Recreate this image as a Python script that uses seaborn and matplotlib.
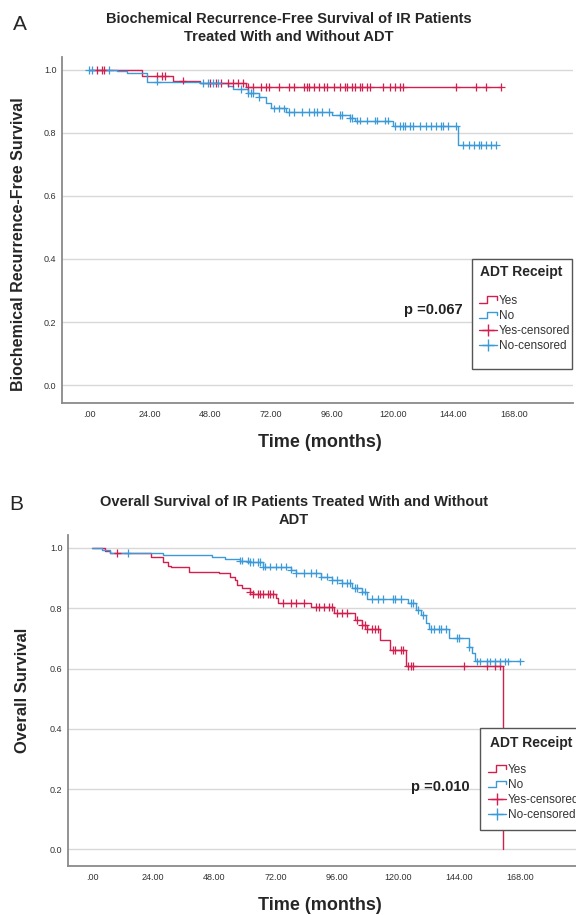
import numpy as np
import pandas as pd
import matplotlib
matplotlib.use("Agg")
import matplotlib.pyplot as plt
import seaborn as sns
from matplotlib.lines import Line2D
from matplotlib.patches import Rectangle
from matplotlib.legend_handler import HandlerBase

# ---- Panel A: biochemical recurrence-free survival (step points + censor times, months)
a_yes_times = [0, 21, 33, 44, 62]
a_yes_surv = [1.0, 0.981, 0.966, 0.958, 0.945]
a_yes_end = 163
a_yes_cens = [3, 5, 6, 27, 29, 30, 37, 48, 50, 52, 55, 57, 59, 61, 63, 65, 68, 70, 71,
              75, 79, 81, 85, 86, 87, 89, 91, 93, 94, 97, 99, 101, 102, 104, 105, 107,
              108, 110, 111, 116, 119, 121, 123, 124, 145, 153, 157, 163]

a_no_times = [0, 11, 15, 23, 44, 55, 57, 63, 67, 70, 72, 78, 96, 103, 105, 120, 146]
a_no_surv = [1.0, 0.995, 0.99, 0.963, 0.958, 0.949, 0.94, 0.927, 0.915, 0.895, 0.878,
             0.866, 0.857, 0.848, 0.839, 0.822, 0.762]
a_no_end = 161
a_no_cens = [0, 1, 8, 27, 45, 47, 49, 51, 60, 63, 64, 65, 67, 73, 75, 77, 79, 81, 84, 87,
             89, 90, 92, 95, 99, 100, 103, 104, 106, 107, 110, 113, 114, 117, 118, 121,
             123, 124, 125, 127, 128, 131, 133, 135, 137, 139, 140, 142, 145, 148, 150,
             152, 154, 155, 157, 159, 161]

# ---- Panel B: overall survival
b_yes_times = [0, 5, 7, 23, 28, 30, 31, 38, 50, 54, 56, 57, 59, 62, 63, 72, 73, 86, 95,
               103, 106, 108, 113, 117, 123, 161]
b_yes_surv = [1.0, 0.99, 0.983, 0.97, 0.955, 0.94, 0.937, 0.921, 0.917, 0.905, 0.894,
              0.877, 0.868, 0.855, 0.848, 0.834, 0.818, 0.805, 0.785, 0.762, 0.745, 0.732,
              0.695, 0.662, 0.609, 0.0]
b_yes_end = 161
b_yes_cens = [10, 62, 63, 65, 66, 67, 69, 70, 71, 75, 78, 80, 83, 88, 89, 91, 93, 94, 96,
              98, 100, 104, 106, 107, 108, 110, 111, 112, 118, 119, 121, 122, 124, 125,
              126, 146, 155, 158, 160]

b_no_times = [0, 4, 7, 28, 47, 52, 58, 62, 67, 78, 80, 90, 94, 98, 102, 106, 108, 124,
              127, 129, 131, 132, 140, 148, 149, 150]
b_no_surv = [1.0, 0.993, 0.983, 0.977, 0.97, 0.964, 0.958, 0.953, 0.938, 0.928, 0.917,
             0.905, 0.894, 0.884, 0.868, 0.855, 0.831, 0.818, 0.795, 0.778, 0.752, 0.732,
             0.702, 0.672, 0.652, 0.624]
b_no_end = 168
b_no_cens = [14, 58, 59, 61, 62, 63, 65, 66, 67, 68, 70, 72, 74, 76, 78, 80, 83, 86, 88,
             90, 92, 94, 96, 98, 100, 101, 103, 104, 106, 107, 110, 112, 114, 118, 119,
             121, 125, 126, 128, 130, 133, 134, 136, 137, 139, 143, 144, 148, 151, 152,
             155, 156, 158, 160, 162, 163, 168]

x_ticks = [0, 24, 48, 72, 96, 120, 144, 168]
x_tick_labels = [".00", "24.00", "48.00", "72.00", "96.00", "120.00", "144.00", "168.00"]
y_ticks = [0.0, 0.2, 0.4, 0.6, 0.8, 1.0]
y_tick_labels = ["0.0", "0.2", "0.4", "0.6", "0.8", "1.0"]
legend_labels = ["Yes", "No", "Yes-censored", "No-censored"]

RED = "#d21f4e"
BLUE = "#3c9ad8"
PALETTE = {"Yes": RED, "No": BLUE}

sns.set_theme(style="white")
plt.rcParams["font.family"] = ["Liberation Sans", "DejaVu Sans"]


class StepHandler(HandlerBase):
    # little step glyph like the SPSS legend
    def create_artists(self, legend, orig_handle, xdescent, ydescent, width, height, fontsize, trans):
        xs = np.array([0, 0.45, 0.45, 1.0, 1.0]) * width - xdescent
        ys = np.array([0.1, 0.1, 0.9, 0.9, 0.45]) * height - ydescent
        return [Line2D(xs, ys, color=orig_handle.get_color(), lw=1, transform=trans)]


def curve_frame(times, surv, end, group):
    t = list(times) + [end]
    s = list(surv) + [surv[-1]]
    return pd.DataFrame({"time": t, "surv": s, "group": group})


def censor_frame(times, surv, cens, group):
    idx = np.searchsorted(times, cens, side="right") - 1
    return pd.DataFrame({"time": cens, "surv": np.asarray(surv)[idx], "group": group})


def draw_panel(ax, curves, censors, ylabel, ylabel_size, xlim, ylim):
    sns.lineplot(data=curves, x="time", y="surv", hue="group", palette=PALETTE,
                 drawstyle="steps-post", estimator=None, linewidth=1, legend=False, ax=ax)
    sns.scatterplot(data=censors, x="time", y="surv", hue="group", palette=PALETTE,
                    marker="+", s=30, linewidth=0.9, legend=False, ax=ax, zorder=3)
    ax.set_xlim(*xlim)
    ax.set_ylim(*ylim)
    ax.set_xticks(x_ticks)
    ax.set_xticklabels(x_tick_labels)
    ax.set_yticks(y_ticks)
    ax.set_yticklabels(y_tick_labels)
    ax.tick_params(axis="both", length=0, labelsize=6.5, labelcolor="#333333")
    ax.tick_params(axis="x", pad=5)
    ax.tick_params(axis="y", pad=4)
    ax.yaxis.grid(True, color="#d8d8d8", lw=1)
    ax.xaxis.grid(False)
    ax.set_axisbelow(True)
    for side in ["top", "right"]:
        ax.spines[side].set_visible(False)
    for side in ["left", "bottom"]:
        ax.spines[side].set_color("#8a8a8a")
        ax.spines[side].set_linewidth(1.3)
    ax.set_xlabel("Time (months)", fontsize=13, fontweight="bold")
    ax.set_ylabel(ylabel, fontsize=ylabel_size, fontweight="bold")


def add_legend(ax, fig, anchor, box, title_xy):
    h_yes = Line2D([], [], color=RED)
    h_no = Line2D([], [], color=BLUE)
    h_yc = Line2D([], [], color=RED, marker="+", markersize=9, markeredgewidth=1, lw=1)
    h_nc = Line2D([], [], color=BLUE, marker="+", markersize=9, markeredgewidth=1, lw=1)
    rect = Rectangle((box[0], box[1]), box[2], box[3], transform=fig.transFigure,
                     facecolor="white", edgecolor="#555555", lw=1, clip_on=False, zorder=10)
    ax.add_patch(rect)
    leg = ax.legend([h_yes, h_no, h_yc, h_nc], legend_labels,
                    loc="upper left", bbox_to_anchor=anchor,
                    bbox_transform=fig.transFigure, frameon=False, fontsize=8.5,
                    handlelength=1.5, handletextpad=0.2, labelspacing=0.27, borderpad=0,
                    handler_map={h_yes: StepHandler(), h_no: StepHandler()})
    leg.set_zorder(11)
    for t in leg.get_texts():
        t.set_color("#333333")
    ax.text(title_xy[0], title_xy[1], "ADT Receipt", transform=fig.transFigure,
            ha="center", va="center", fontsize=10, fontweight="bold", zorder=12,
            clip_on=False)


fig = plt.figure(figsize=(5.76, 9.15), dpi=100)
W, H = 576.0, 915.0

# panel A
ax_a = fig.add_axes([62 / W, 1 - 403 / H, (573 - 62) / W, (403 - 57) / H])
curves_a = pd.concat([curve_frame(a_yes_times, a_yes_surv, a_yes_end, "Yes"),
                      curve_frame(a_no_times, a_no_surv, a_no_end, "No")])
cens_a = pd.concat([censor_frame(a_yes_times, a_yes_surv, a_yes_cens, "Yes"),
                    censor_frame(a_no_times, a_no_surv, a_no_cens, "No")])
draw_panel(ax_a, curves_a, cens_a, "Biochemical Recurrence-Free Survival", 11.5,
           (-10.7, 191.3), (-0.057, 1.041))
ax_a.xaxis.set_label_coords(0.505, -0.09)
ax_a.yaxis.set_label_coords(-0.07, 0.46)
add_legend(ax_a, fig, (473 / W, 1 - 289 / H), (472 / W, 1 - 369 / H, 100 / W, 110 / H),
           (521 / W, 1 - 272 / H))
fig.text(463 / W, 1 - 310 / H, "p =0.067", ha="right", va="center", fontsize=10.5,
         fontweight="bold", color="#222222")

# panel B
ax_b = fig.add_axes([68 / W, 1 - 866 / H, (576 - 68) / W, (866 - 535) / H])
curves_b = pd.concat([curve_frame(b_yes_times, b_yes_surv, b_yes_end, "Yes"),
                      curve_frame(b_no_times, b_no_surv, b_no_end, "No")])
cens_b = pd.concat([censor_frame(b_yes_times, b_yes_surv, b_yes_cens, "Yes"),
                    censor_frame(b_no_times, b_no_surv, b_no_cens, "No")])
draw_panel(ax_b, curves_b, cens_b, "Overall Survival", 12, (-9.4, 189.8), (-0.055, 1.043))
ax_b.xaxis.set_label_coords(0.496, -0.095)
ax_b.yaxis.set_label_coords(-0.075, 0.53)
add_legend(ax_b, fig, (482 / W, 1 - 758 / H), (480 / W, 1 - 830 / H, 120 / W, 102 / H),
           (531 / W, 1 - 743 / H))
fig.text(470 / W, 1 - 787 / H, "p =0.010", ha="right", va="center", fontsize=10.5,
         fontweight="bold", color="#222222")

# titles and panel letters
fig.text(289 / W, 1 - 28 / H, "Biochemical Recurrence-Free Survival of IR Patients\nTreated With and Without ADT",
         ha="center", va="center", fontsize=10.5, fontweight="bold", linespacing=1.3)
fig.text(294 / W, 1 - 511 / H, "Overall Survival of IR Patients Treated With and Without\nADT",
         ha="center", va="center", fontsize=10.5, fontweight="bold", linespacing=1.3)
fig.text(20 / W, 1 - 25 / H, "A", ha="center", va="center", fontsize=15)
fig.text(16 / W, 1 - 505 / H, "B", ha="center", va="center", fontsize=15)

fig.savefig("out.png", dpi=100)
